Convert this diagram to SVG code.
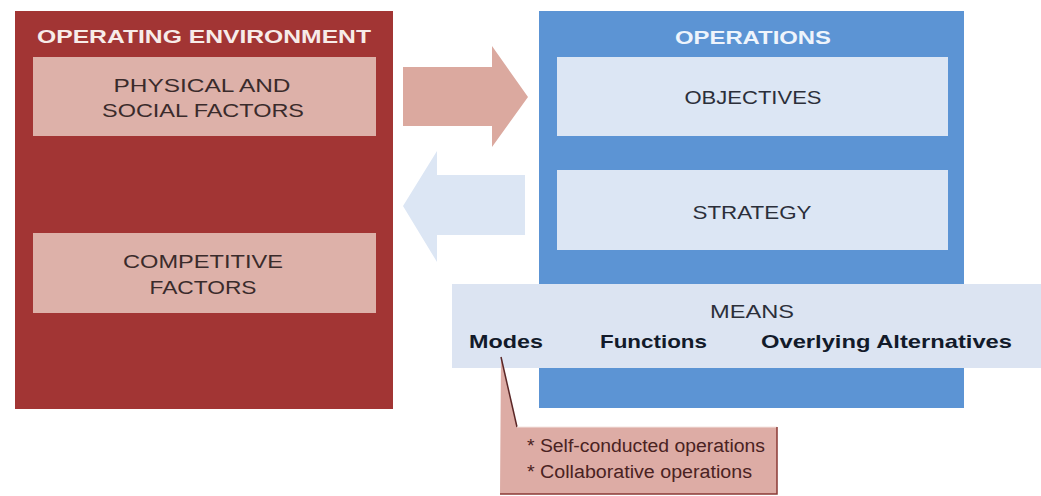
<svg xmlns="http://www.w3.org/2000/svg" width="1041" height="496" viewBox="0 0 1041 496">
  <style>
    text { font-family: "Liberation Sans", "Open Sans", sans-serif; }
    .title { font-weight: bold; font-size: 19px; fill: #F7ECE9; text-anchor: middle; }
    .lbl { font-size: 19px; fill: #3A2B2B; text-anchor: middle; }
    .blbl { font-size: 19px; fill: #2B2F3A; text-anchor: middle; }
    .bold { font-size: 19px; font-weight: bold; fill: #121A2A; }
    .note { font-size: 18px; fill: #4A2222; }
    .red { fill: #A23534; }
    .pink { fill: #DDB1A9; }
    .blue { fill: #5C94D4; }
    .lightblue { fill: #DCE6F4; }
  </style>
  <rect width="1041" height="496" fill="#FFFFFF"/>

  <g id="operating-environment">
    <rect class="red" x="15" y="11" width="378" height="398"/>
    <text class="title" x="204" y="43" textLength="334" lengthAdjust="spacingAndGlyphs">OPERATING ENVIRONMENT</text>
  </g>
  <g id="physical-social-factors">
    <rect class="pink" x="33" y="57" width="343" height="79"/>
    <text class="lbl" x="202" y="92" textLength="177" lengthAdjust="spacingAndGlyphs">PHYSICAL AND</text>
    <text class="lbl" x="203" y="117" textLength="202" lengthAdjust="spacingAndGlyphs">SOCIAL FACTORS</text>
  </g>
  <g id="competitive-factors">
    <rect class="pink" x="33" y="233" width="343" height="80"/>
    <text class="lbl" x="203" y="268" textLength="160" lengthAdjust="spacingAndGlyphs">COMPETITIVE</text>
    <text class="lbl" x="203" y="294" textLength="107" lengthAdjust="spacingAndGlyphs">FACTORS</text>
  </g>

  <g id="operations">
    <rect class="blue" x="539" y="11" width="425" height="397"/>
    <text class="title" x="753" y="44" textLength="156" lengthAdjust="spacingAndGlyphs" fill="#EEF4FC" style="fill:#EEF4FC">OPERATIONS</text>
  </g>
  <g id="objectives">
    <rect class="lightblue" x="557" y="57" width="391" height="79"/>
    <text class="blbl" x="753" y="104" textLength="137" lengthAdjust="spacingAndGlyphs">OBJECTIVES</text>
  </g>
  <g id="strategy">
    <rect class="lightblue" x="557" y="170" width="391" height="80"/>
    <text class="blbl" x="752" y="219" textLength="119" lengthAdjust="spacingAndGlyphs">STRATEGY</text>
  </g>
  <g id="means">
    <rect x="452" y="284" width="589" height="84" fill="#DCE4F2"/>
    <text class="blbl" x="752" y="318" font-size="18" textLength="84" lengthAdjust="spacingAndGlyphs">MEANS</text>
    <text class="bold" x="469" y="348" textLength="74" lengthAdjust="spacingAndGlyphs">Modes</text>
    <text class="bold" x="600" y="348" textLength="107" lengthAdjust="spacingAndGlyphs">Functions</text>
    <text class="bold" x="761" y="348" textLength="251" lengthAdjust="spacingAndGlyphs">Overlying Alternatives</text>
  </g>

  <g id="modes-callout">
    <path d="M501 357 L517 427 L777 427 L777 494 L500 494 Z" fill="#DDACA5"/>
    <path d="M501 357 L517 427" stroke="#5A2626" stroke-width="1.5" fill="none"/>
    <path d="M517 427 L777 427" stroke="#F4E4E1" stroke-width="1" fill="none"/>
    <path d="M777 427 L777 494 L500 494" stroke="#8A3A36" stroke-width="1.5" fill="none"/>
    <text class="note" x="527" y="452" textLength="238" lengthAdjust="spacingAndGlyphs">* Self-conducted operations</text>
    <text class="note" x="527" y="478" textLength="225" lengthAdjust="spacingAndGlyphs">* Collaborative operations</text>
  </g>

  <g id="connectors">
    <polygon points="403,67 492,67 492,46 528,97 492,147 492,126 403,126" fill="#DBA99F"/>
    <polygon points="525,175 437,175 437,151 403,206 437,262 437,235 525,235" fill="#DCE6F4"/>
  </g>
</svg>
